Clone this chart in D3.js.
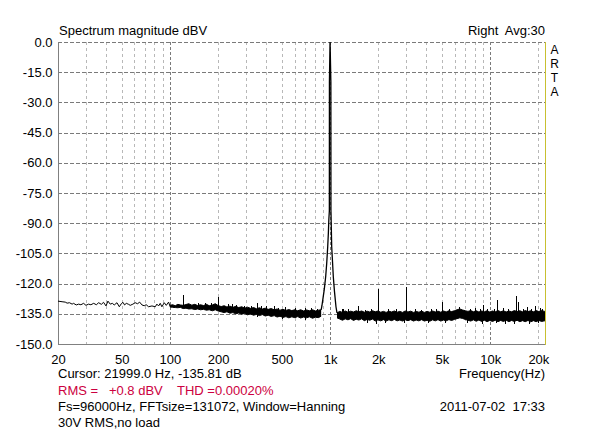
<!DOCTYPE html>
<html><head><meta charset="utf-8">
<script src="https://cdn.jsdelivr.net/npm/d3@7/dist/d3.min.js"></script>
<style>
html,body{margin:0;padding:0;background:#fff;}
svg{display:block;font-family:"Liberation Sans",Arial,sans-serif;}
text{white-space:pre;}
</style></head>
<body><svg id="c" width="601" height="434"></svg>
<script>
// ---------- data ----------
const yTicks = [0,-15,-30,-45,-60,-75,-90,-105,-120,-135,-150];
const xTickVals = [20,50,100,200,500,1000,2000,5000,10000,20000];
const xTickLabels = ["20","50","100","200","500","1k","2k","5k","10k","20k"];
const gridFreqs = [30,40,50,60,70,80,90,100,200,300,400,500,600,700,800,900,1000,2000,3000,4000,5000,6000,7000,8000,9000,10000,20000];
const decadeFreqs = [100,1000,10000];

// low-frequency part of the trace (thin line)
const lowFreq = [20.0,21.2,22.2,22.8,23.6,24.5,25.0,26.0,26.9,27.8,28.9,29.9,31.0,32.1,33.4,34.7,35.9,37.3,38.5,39.9,41.0,42.4,43.7,44.9,46.7,48.3,49.7,50.9,52.1,53.4,55.2,56.5,58.7,60.7,62.8,64.7,66.9,69.1,71.1,73.6,77.2,81.0,82.9,85.0,87.0,89.1,92.2,94.9,98.1,100.4];
const lowDb = [-128.7,-129.0,-129.2,-129.7,-129.5,-130.2,-129.8,-130.6,-130.2,-130.5,-129.8,-130.8,-130.2,-130.5,-129.8,-130.5,-129.5,-130.3,-129.3,-131.1,-128.7,-130.2,-129.8,-130.6,-129.5,-131.5,-130.0,-129.3,-130.6,-129.8,-130.3,-130.8,-130.2,-129.5,-130.0,-129.2,-130.6,-131.0,-130.5,-131.5,-131.1,-131.5,-130.2,-131.1,-129.8,-131.5,-129.5,-130.8,-129.2,-131.5];

// noise band (upper / lower envelope) before the fundamental
const preFreq = [100,104,108,112,116,121,126,131,137,143,149,155,162,169,176,184,192,200,209,218,227,237,247,258,269,281,293,305,319,333,347,362,378,394,411,429,448,467,487,508,530,553,577,602,628,655,684,713,744,777,810,845,880];
const preHi = [-130.8,-130.5,-131.0,-130.3,-130.6,-130.8,-130.4,-130.0,-130.7,-130.3,-130.9,-130.5,-130.9,-130.3,-131.0,-130.6,-130.0,-130.9,-131.4,-131.0,-131.6,-131.2,-131.8,-131.3,-131.9,-131.5,-132.2,-131.7,-132.3,-131.9,-132.5,-132.0,-132.6,-132.2,-132.8,-132.4,-133.0,-132.6,-133.2,-132.8,-133.3,-132.9,-133.4,-133.0,-133.5,-133.0,-133.6,-133.1,-133.5,-133.0,-133.6,-133.2,-133.0];
const preLo = [-131.6,-131.8,-131.9,-132.0,-131.8,-132.4,-132.2,-132.6,-132.5,-132.9,-132.6,-133.0,-132.8,-133.2,-133.0,-133.5,-133.0,-133.6,-134.0,-134.4,-134.0,-134.7,-134.4,-135.0,-134.6,-135.2,-134.8,-135.5,-135.1,-135.7,-135.3,-135.9,-135.4,-136.1,-135.7,-136.3,-135.9,-136.6,-136.2,-136.8,-136.4,-137.0,-136.5,-136.9,-136.4,-137.1,-136.6,-137.0,-136.5,-137.2,-136.7,-136.9,-136.2];

// the fundamental at 1 kHz (skirt of the Hanning window)
const peakFreq = [880,890,905,920,939,953,967,976,983,989,990,991,1000,1012,1013,1014,1017,1024,1036,1048,1066,1089,1105];
const peakDb = [-133.0,-131.0,-127.0,-123.0,-116.6,-110.0,-101.7,-95.0,-88.0,-84.5,-84.0,-20.0,0.8,-20.0,-84.0,-84.8,-90.0,-101.7,-109.0,-116.6,-124.0,-131.5,-134.5];

// noise band after the fundamental
const postFreq = [1105,1150,1196,1244,1294,1346,1400,1456,1514,1575,1638,1703,1771,1842,1916,1993,2072,2155,2241,2331,2424,2521,2622,2727,2836,2949,3067,3190,3318,3450,3588,3732,3881,4036,4198,4366,4540,4722,4911,5107,5311,5524,5745,5974,6213,6462,6720,6989,7269,7559,7862,8176,8503,8843,9197,9565,9947,10345,10759,11189,11637,12102,12586,13090,13613,14158,14724,15313,15926,16563,17225,17914,18631,19376,20151,20957,21796,22000];
const postHi = [-134.5,-133.8,-134.3,-133.6,-134.2,-133.7,-134.1,-133.5,-134.0,-133.6,-134.2,-133.7,-134.1,-133.5,-134.0,-133.6,-134.2,-133.8,-134.3,-133.7,-134.1,-133.6,-134.2,-133.8,-134.3,-133.6,-134.1,-133.7,-134.3,-133.8,-134.2,-133.7,-134.3,-133.8,-134.2,-133.6,-134.1,-133.7,-134.2,-133.6,-134.1,-133.5,-133.9,-133.5,-133.0,-132.6,-133.1,-133.5,-133.8,-133.4,-134.0,-133.5,-134.1,-133.6,-134.0,-133.5,-134.1,-133.6,-134.0,-133.4,-134.0,-133.5,-134.1,-133.6,-134.0,-133.4,-133.9,-133.5,-134.0,-133.4,-133.9,-133.5,-134.0,-133.4,-133.9,-133.3,-133.8,-133.6];
const postLo = [-137.0,-137.6,-138.2,-137.5,-138.0,-137.4,-138.3,-137.7,-138.1,-137.5,-138.4,-137.8,-138.2,-137.6,-138.6,-138.0,-138.5,-137.9,-138.6,-138.0,-138.4,-137.8,-138.5,-138.1,-138.6,-138.0,-138.4,-137.9,-138.6,-138.1,-138.5,-137.9,-138.6,-138.2,-138.7,-138.0,-138.5,-137.9,-138.6,-138.1,-138.5,-137.9,-138.3,-137.8,-137.4,-137.0,-137.3,-137.8,-138.2,-138.6,-138.0,-138.7,-138.1,-138.8,-138.2,-138.9,-138.3,-138.8,-138.2,-138.9,-138.3,-138.8,-138.2,-138.9,-138.3,-138.8,-138.2,-138.9,-138.4,-138.9,-138.3,-139.0,-138.4,-138.9,-138.3,-138.8,-138.5,-138.6];

// discrete spurs / harmonics
const spurFreq = [120.5,200,243,350,400,445,1200,1500,2000,3000,5000,9000,11000,14400,15000,17000,19000,21200];
const spurTop  = [-125.7,-126.5,-130.2,-129.8,-131.0,-131.1,-132.5,-131.3,-122.7,-121.5,-129.0,-130.5,-128.2,-126.0,-129.3,-131.8,-131.3,-132.8];
const spurBase = [-131.0,-132.0,-133.0,-134.0,-134.0,-135.0,-136.0,-136.0,-136.0,-136.0,-136.0,-136.0,-136.0,-136.0,-136.0,-136.0,-136.0,-136.0];

// small noise ticks above and below the band
const tickUpFreq = [150,165,180,230,260,290,320,370,470,520,600,700,760,830,1180,1300,1650,1800,2300,2600,3400,3700,4300,4600,5500,6400,7500,8000,8600,9500,10500,12000,13000,16000,18000,20500];
const tickUpDb   = [-129.4,-129.8,-129.6,-130.2,-130.6,-130.9,-131.2,-131.1,-131.9,-131.6,-132.1,-132.3,-131.9,-132.4,-132.8,-132.6,-132.9,-132.4,-132.8,-132.5,-132.6,-132.9,-132.7,-132.4,-132.5,-131.6,-132.6,-132.3,-132.8,-132.4,-132.5,-132.2,-132.6,-132.4,-132.5,-132.3];
const tickDownFreq = [350,500,700,1700,1950,2200,2900,4100,5200,7200,8900,10800,12400,14000,17500,19800];
const tickDownDb   = [-136.8,-137.8,-138.0,-139.5,-140.0,-139.5,-139.6,-139.7,-139.8,-139.6,-140.0,-139.8,-140.1,-139.9,-140.0,-139.8];

// ---------- drawing ----------
const svg = d3.select("#c");
const L = 58, R = 545, T = 42, B = 344;
const x = d3.scaleLog().domain([20, 22000]).range([L, R]);
const y = d3.scaleLinear().domain([-150, 0]).range([B, T]);
const px = v => Math.round(v) + 0.5;

svg.append("rect").attr("width",601).attr("height",434).attr("fill","#fff");

const defs = svg.append("defs");
defs.append("clipPath").attr("id","plot").append("rect")
  .attr("x",L).attr("y",T).attr("width",R-L).attr("height",B-T);

// vertical grid
const g = svg.append("g");
g.selectAll("line.v").data(gridFreqs).join("line")
  .attr("x1", d=>px(x(d))).attr("x2", d=>px(x(d)))
  .attr("y1", T).attr("y2", B)
  .attr("stroke", d => decadeFreqs.includes(d) ? "#7a7a7a" : "#b8b8b8")
  .attr("stroke-dasharray", d => decadeFreqs.includes(d) ? "3,2" : "3,3")
  .attr("shape-rendering","crispEdges");
// horizontal grid
g.selectAll("line.h").data(yTicks.filter(d=>d>-150)).join("line")
  .attr("x1", L).attr("x2", R)
  .attr("y1", d=>px(y(d))).attr("y2", d=>px(y(d)))
  .attr("stroke","#7a7a7a").attr("stroke-dasharray","4,2")
  .attr("shape-rendering","crispEdges");

// frame
svg.append("line").attr("x1",px(L)).attr("x2",px(L)).attr("y1",T).attr("y2",px(B))
  .attr("stroke","#808080").attr("shape-rendering","crispEdges");
svg.append("line").attr("x1",L).attr("x2",R).attr("y1",px(B)).attr("y2",px(B))
  .attr("stroke","#808080").attr("shape-rendering","crispEdges");
svg.append("line").attr("x1",px(R)).attr("x2",px(R)).attr("y1",T).attr("y2",px(B))
  .attr("stroke","#c8c030").attr("shape-rendering","crispEdges");

// trace
const tr = svg.append("g").attr("clip-path","url(#plot)");
const lineGen = d3.line().x(d=>x(d[0])).y(d=>y(d[1]));
const areaGen = d3.area().x(d=>x(d[0])).y0(d=>y(d[2])).y1(d=>y(d[1]));

tr.append("path").datum(lowFreq.map((f,i)=>[f,lowDb[i]]))
  .attr("d", lineGen).attr("fill","none").attr("stroke","#000").attr("stroke-width",1);

[[preFreq,preHi,preLo],[postFreq,postHi,postLo]].forEach(([F,Hi,Lo])=>{
  const dat = F.map((f,i)=>[f,Hi[i],Lo[i]]);
  tr.append("path").datum(dat).attr("d",areaGen).attr("fill","#000");
  tr.append("path").datum(dat.map(d=>[d[0],d[1]])).attr("d",lineGen)
    .attr("fill","none").attr("stroke","#000").attr("stroke-width",1);
  tr.append("path").datum(dat.map(d=>[d[0],d[2]])).attr("d",lineGen)
    .attr("fill","none").attr("stroke","#000").attr("stroke-width",1);
});

tr.append("path").datum(peakFreq.map((f,i)=>[f,peakDb[i]]))
  .attr("d", lineGen).attr("fill","none").attr("stroke","#000").attr("stroke-width",1.3);

tr.selectAll("line.spur").data(spurFreq).join("line")
  .attr("x1", d=>px(x(d))).attr("x2", d=>px(x(d)))
  .attr("y1", (d,i)=>y(spurTop[i])).attr("y2", (d,i)=>y(spurBase[i]))
  .attr("stroke","#000").attr("shape-rendering","crispEdges");
tr.selectAll("line.tu").data(tickUpFreq).join("line")
  .attr("x1", d=>px(x(d))).attr("x2", d=>px(x(d)))
  .attr("y1", (d,i)=>y(tickUpDb[i])).attr("y2", (d,i)=>y(tickUpDb[i]-2.5))
  .attr("stroke","#000").attr("shape-rendering","crispEdges");
tr.selectAll("line.td").data(tickDownFreq).join("line")
  .attr("x1", d=>px(x(d))).attr("x2", d=>px(x(d)))
  .attr("y1", (d,i)=>y(tickDownDb[i])).attr("y2", (d,i)=>y(tickDownDb[i]+2.5))
  .attr("stroke","#000").attr("shape-rendering","crispEdges");

// axes (labels only)
const fontSize = "13px";
const yAx = svg.append("g").attr("transform",`translate(${L},0)`)
  .call(d3.axisLeft(y).tickValues(yTicks).tickFormat(d=>d.toFixed(1)).tickSize(0).tickPadding(5.5));
const xAx = svg.append("g").attr("transform",`translate(0,${B})`)
  .call(d3.axisBottom(x).tickValues(xTickVals).tickFormat((d,i)=>xTickLabels[i]).tickSize(0).tickPadding(11));
[yAx,xAx].forEach(a=>{
  a.select(".domain").remove();
  a.selectAll("text").attr("fill","#000").style("font-size",fontSize)
   .style("font-family",'"Liberation Sans",Arial,sans-serif');
});

// texts
const txt = (s, tx, ty, anchor, color, size) => svg.append("text")
  .attr("x",tx).attr("y",ty).attr("text-anchor",anchor||"start")
  .attr("fill",color||"#000").style("font-size",size||fontSize).text(s);

txt("Spectrum magnitude dBV", 59, 35);
txt("Right  Avg:30", 545, 35, "end");
["A","R","T","A"].forEach((c,i)=>txt(c, 554.5, 54 + i*14, "middle", "#000", "12px"));
txt("Cursor: 21999.0 Hz, -135.81 dB", 58, 378);
txt("Frequency(Hz)", 545, 378, "end");
txt("RMS =   +0.8 dBV    THD =0.00020%", 58, 395, "start", "#cc0040");
txt("Fs=96000Hz, FFTsize=131072, Window=Hanning", 58, 411);
txt("2011-07-02  17:33", 545, 411, "end");
txt("30V RMS,no load", 58, 427);
</script></body></html>
